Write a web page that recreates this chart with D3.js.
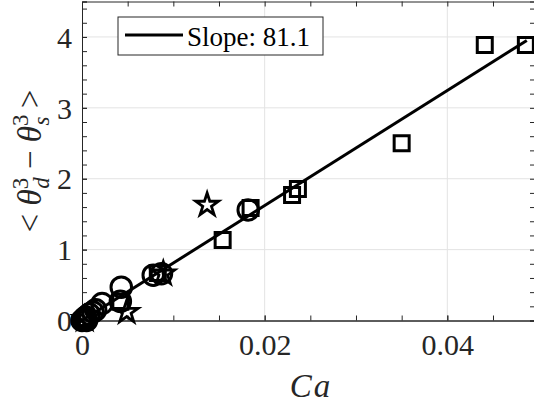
<!DOCTYPE html>
<html>
<head>
<meta charset="utf-8">
<script src="https://cdn.jsdelivr.net/npm/d3@7"></script>
<style>
  body { margin: 0; background: #fff; }
  svg text { font-family: "Liberation Serif" !important; }
</style>
</head>
<body>
<div id="chart"></div>
<script>
// data
const squaresX = [0.0486, 0.0441, 0.0350, 0.02364, 0.0230, 0.01846, 0.0154, 0.0042, 0.0083, 0.0004];
const squaresY = [3.886, 3.886, 2.50, 1.855, 1.770, 1.587, 1.135, 0.265, 0.67, 0.03];
const circlesX = [0.0182, 0.0078, 0.0087, 0.0043, 0.0042, 0.0022, 0.0012, 0.0008, 0.0004, 0.0002, 0.0, 0.0005, 0.0015];
const circlesY = [1.56, 0.64, 0.66, 0.47, 0.27, 0.24, 0.12, 0.09, 0.05, 0.02, 0.0, 0.0, 0.15];
const starsX = [0.0137, 0.0089, 0.0049, 0.0003];
const starsY = [1.63, 0.66, 0.12, 0.02];
const fitSlope = 81.1;
const fitX = [0, 0.0487];
const xMajor = [0, 0.02, 0.04];
const xMajorLabels = ["0", "0.02", "0.04"];
const yMajor = [0, 1, 2, 3, 4];
const yMajorLabels = ["0", "1", "2", "3", "4"];
const legendLabel = "Slope: 81.1";

(function draw() {
    const W = 534, H = 409;
    const box = { left: 82, right: 535, top: 1.5, bottom: 320.5 };
    const axisCol = "#262626";
    const ff = '"Liberation Serif"';

    const svg = d3.select("#chart").append("svg")
        .attr("width", W)
        .attr("height", H);

    const xs = d3.scaleLinear().domain([0, 0.0496]).range([box.left, box.right]);
    const ys = d3.scaleLinear().domain([0, 4.5]).range([box.bottom, box.top]);

    // grid
    svg.append("g").selectAll("line")
        .data(xMajor.filter(d => d > 0))
        .enter().append("line")
        .attr("x1", d => xs(d)).attr("x2", d => xs(d))
        .attr("y1", box.top).attr("y2", box.bottom)
        .attr("stroke", "#e3e3e3").attr("stroke-width", 1);
    svg.append("g").selectAll("line")
        .data(yMajor.filter(d => d > 0))
        .enter().append("line")
        .attr("x1", box.left).attr("x2", box.right)
        .attr("y1", d => ys(d)).attr("y2", d => ys(d))
        .attr("stroke", "#e3e3e3").attr("stroke-width", 1);

    const xMinor = d3.range(0, 0.0496, 0.005);
    const yMinor = d3.range(0, 4.5, 0.2);
    const tk = 5;

    function styleAxis(g) {
        g.attr("font-family", null).attr("font-size", null);
        g.select(".domain").attr("stroke", axisCol).attr("stroke-width", 1);
        g.selectAll(".tick line").attr("stroke", axisCol);
        g.selectAll(".tick text").attr("fill", axisCol).attr("font-size", 30)
            .style("font-family", ff);
    }

    // minor ticks on all four sides, pointing inward
    svg.append("g").attr("transform", `translate(0,${box.bottom})`)
        .call(d3.axisBottom(xs).tickValues(xMinor).tickFormat("").tickSize(-tk)).call(styleAxis);
    svg.append("g").attr("transform", `translate(0,${box.top})`)
        .call(d3.axisTop(xs).tickValues(xMinor).tickFormat("").tickSize(-tk)).call(styleAxis);
    svg.append("g").attr("transform", `translate(${box.left},0)`)
        .call(d3.axisLeft(ys).tickValues(yMinor).tickFormat("").tickSize(-tk)).call(styleAxis);
    svg.append("g").attr("transform", `translate(${box.right},0)`)
        .call(d3.axisRight(ys).tickValues(yMinor).tickFormat("").tickSize(-tk)).call(styleAxis);

    // major ticks with labels
    svg.append("g").attr("transform", `translate(0,${box.bottom})`)
        .call(d3.axisBottom(xs).tickValues(xMajor).tickFormat((d, i) => xMajorLabels[i]).tickSize(-tk).tickPadding(10))
        .call(styleAxis)
        .call(g => g.selectAll(".tick text").attr("dy", "0.82em"));
    svg.append("g").attr("transform", `translate(${box.left},0)`)
        .call(d3.axisLeft(ys).tickValues(yMajor).tickFormat((d, i) => yMajorLabels[i]).tickSize(-tk).tickPadding(10))
        .call(styleAxis)
        .call(g => g.selectAll(".tick text").attr("dy", "0.34em"));

    // fit line
    const fitLine = d3.line().x(d => xs(d)).y(d => ys(fitSlope * d));
    svg.append("path")
        .datum(fitX)
        .attr("d", fitLine)
        .attr("fill", "none")
        .attr("stroke", "#000")
        .attr("stroke-width", 3);

    // markers
    const sq = d3.symbol().type(d3.symbolSquare).size(225);
    const ci = d3.symbol().type(d3.symbolCircle).size(330);
    const st = d3.symbol().type(d3.symbolStar).size(160);

    function drawMarkers(vx, vy, sym, sw) {
        svg.append("g").selectAll("path")
            .data(vx.map((v, i) => [v, vy[i]]))
            .enter().append("path")
            .attr("transform", d => `translate(${xs(d[0])},${ys(d[1])})`)
            .attr("d", sym)
            .attr("fill", "none")
            .attr("stroke", "#000")
            .attr("stroke-width", sw);
    }
    drawMarkers(squaresX, squaresY, sq, 3);
    drawMarkers(circlesX, circlesY, ci, 3);
    drawMarkers(starsX, starsY, st, 2.8);

    // legend
    svg.append("rect")
        .attr("x", 118).attr("y", 17).attr("width", 205).attr("height", 38)
        .attr("fill", "#fff").attr("stroke", axisCol).attr("stroke-width", 1);
    svg.append("line")
        .attr("x1", 125).attr("x2", 183).attr("y1", 35).attr("y2", 35)
        .attr("stroke", "#000").attr("stroke-width", 3);
    svg.append("text")
        .attr("x", 187).attr("y", 46)
        .attr("font-size", 27)
        .style("font-family", ff)
        .text(legendLabel);

    // x label
    const xl = svg.append("text")
        .attr("x", 310).attr("y", 397)
        .attr("text-anchor", "middle")
        .attr("font-size", 33).attr("font-style", "italic")
        .attr("fill", axisCol)
        .style("font-family", ff);
    xl.append("tspan").text("C");
    xl.append("tspan").attr("dx", 2).text("a");

    // y label
    const yl = svg.append("text")
        .attr("transform", "translate(41,161) rotate(-90)")
        .attr("text-anchor", "middle")
        .attr("font-size", 33)
        .attr("fill", axisCol)
        .style("font-family", ff);
    yl.append("tspan").text("\u003c ");
    yl.append("tspan").attr("font-style", "italic").text("\u03b8");
    yl.append("tspan").attr("font-size", 23).attr("dy", -13).text("3");
    yl.append("tspan").attr("font-size", 23).attr("font-style", "italic").attr("dx", -11).attr("dy", 21).text("d");
    yl.append("tspan").attr("dy", -8).text(" \u2212 ");
    yl.append("tspan").attr("font-style", "italic").text("\u03b8");
    yl.append("tspan").attr("font-size", 23).attr("dy", -13).text("3");
    yl.append("tspan").attr("font-size", 23).attr("font-style", "italic").attr("dx", -11).attr("dy", 21).text("s");
    yl.append("tspan").attr("dy", -8).text(" \u003e");
})();
</script>
</body>
</html>
